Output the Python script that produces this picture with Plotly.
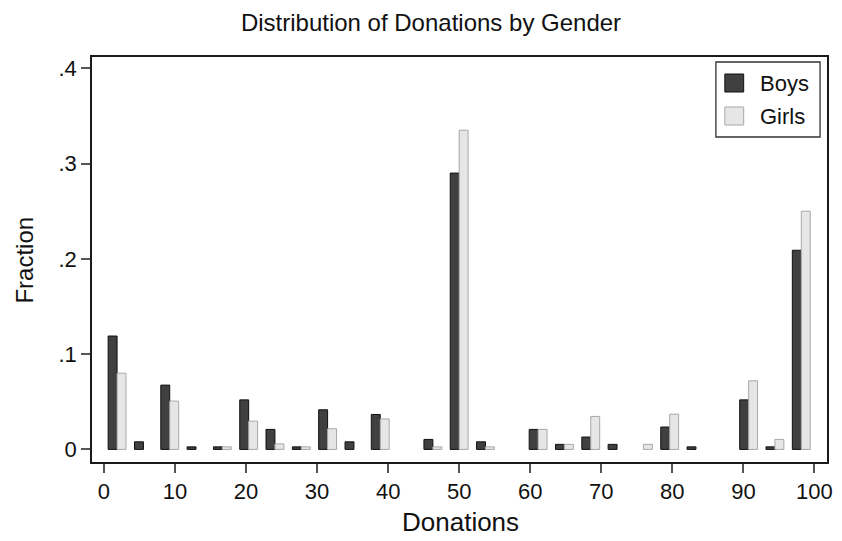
import plotly.graph_objects as go

# Bin centers (27 bins of width 100/27 over 0..100)
bin_centers = [1.85, 5.56, 9.26, 12.96, 16.67, 20.37, 24.07, 27.78, 31.48, 35.19,
               38.89, 42.59, 46.30, 50.00, 53.70, 57.41, 61.11, 64.81, 68.52, 72.22,
               75.93, 79.63, 83.33, 87.04, 90.74, 94.44, 98.15]

# None = empty bin (no bar drawn)
boys = [0.119, 0.008, 0.0675, 0.0027, 0.0027, 0.052, 0.021, 0.0027, 0.0416, 0.008,
        0.0367, None, 0.0105, 0.290, 0.008, None, 0.021, 0.0053, 0.013, 0.0053,
        None, 0.0235, 0.0027, None, 0.052, 0.0027, 0.209]

girls = [0.080, None, 0.0507, None, 0.0027, 0.0297, 0.0058, 0.0027, 0.0217, None,
         0.032, None, 0.0027, 0.335, 0.0027, None, 0.021, 0.0053, 0.0346, None,
         0.0053, 0.037, None, None, 0.072, 0.0105, 0.250]

x_tickvals = [0, 10, 20, 30, 40, 50, 60, 70, 80, 90, 100]
y_tickvals = [0, 0.1, 0.2, 0.3, 0.4]
y_ticktext = ["0", ".1", ".2", ".3", ".4"]

FONT = "Liberation Sans, Arial, Helvetica, sans-serif"
BOYS_FILL, BOYS_LINE = "#404040", "#111111"
GIRLS_FILL, GIRLS_LINE = "#e6e6e6", "#a8a8a8"

W, H = 842, 541
L, R, T, B = 92, 9, 57, 79
PW, PH = W - L - R, H - T - B

def fx(px):
    return (px - L) / PW

def fy(py):
    return (H - B - py) / PH

fig = go.Figure()
fig.add_trace(go.Bar(x=bin_centers, y=boys, name="Boys",
                     marker=dict(color=BOYS_FILL, line=dict(color=BOYS_LINE, width=1)),
                     showlegend=False))
fig.add_trace(go.Bar(x=bin_centers, y=girls, name="Girls",
                     marker=dict(color=GIRLS_FILL, line=dict(color=GIRLS_LINE, width=1)),
                     showlegend=False))

axis_common = dict(showline=True, linecolor="#1a1a1a", linewidth=1.5, mirror=True,
                   showgrid=False, zeroline=False, ticks="outside", ticklen=9,
                   tickwidth=1.5, tickcolor="#555555",
                   tickfont=dict(family=FONT, size=22, color="#111111"))

fig.update_xaxes(range=[-1.68, 101.77], tickvals=x_tickvals,
                 ticklabeloverflow="allow", **axis_common)
fig.update_yaxes(range=[-0.0132, 0.4118], tickvals=y_tickvals, ticktext=y_ticktext,
                 **axis_common)

shapes = [
    # legend box
    dict(type="rect", xref="paper", yref="paper", x0=fx(721), x1=fx(826),
         y0=fy(137), y1=fy(62), line=dict(color="#333333", width=1.3), fillcolor="white"),
    dict(type="rect", xref="paper", yref="paper", x0=fx(730), x1=fx(749),
         y0=fy(92), y1=fy(74), line=dict(color=BOYS_LINE, width=1), fillcolor=BOYS_FILL),
    dict(type="rect", xref="paper", yref="paper", x0=fx(730), x1=fx(749),
         y0=fy(125), y1=fy(107), line=dict(color=GIRLS_LINE, width=1), fillcolor=GIRLS_FILL),
]

annotations = [
    dict(text="Boys", xref="paper", yref="paper", x=fx(763), y=fy(83),
         xanchor="left", yanchor="middle", showarrow=False,
         font=dict(family=FONT, size=22, color="#111111")),
    dict(text="Girls", xref="paper", yref="paper", x=fx(763), y=fy(116),
         xanchor="left", yanchor="middle", showarrow=False,
         font=dict(family=FONT, size=22, color="#111111")),
    dict(text="Donations", xref="paper", yref="paper", x=fx(464), y=fy(522),
         xanchor="center", yanchor="middle", showarrow=False,
         font=dict(family=FONT, size=26, color="#111111")),
    dict(text="Fraction", xref="paper", yref="paper", x=fx(23), y=fy(260),
         xanchor="center", yanchor="middle", showarrow=False, textangle=-90,
         font=dict(family=FONT, size=24, color="#111111")),
]

fig.update_layout(
    width=W, height=H,
    margin=dict(l=L, r=R, t=T, b=B),
    paper_bgcolor="white", plot_bgcolor="white",
    barmode="group", bargap=0.32, bargroupgap=0,
    title=dict(text="Distribution of Donations by Gender", x=431 / W, xanchor="center",
               xref="container", y=1 - 23 / H, yref="container", yanchor="middle",
               font=dict(family=FONT, size=24, color="#111111")),
    shapes=shapes, annotations=annotations,
    showlegend=False,
)

fig.write_html("out.html",
               config={"displayModeBar": False},
               post_script="document.body.style.margin='0px';document.body.style.padding='0px';")
